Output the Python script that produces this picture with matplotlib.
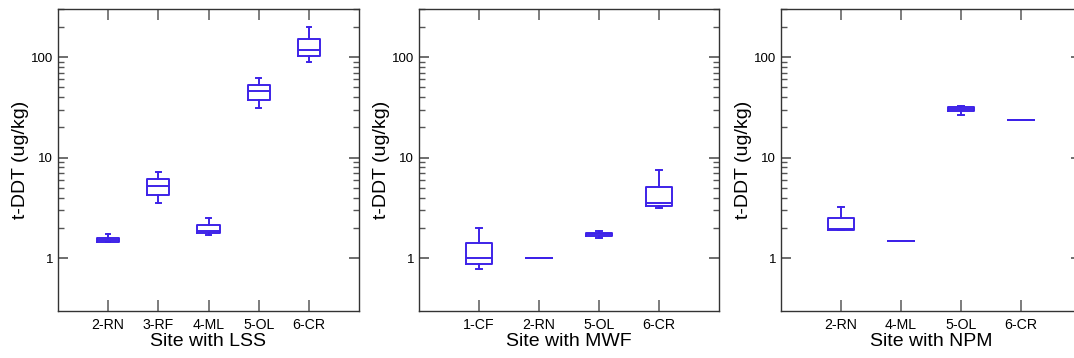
import matplotlib
matplotlib.use('Agg')
import matplotlib.pyplot as plt
from matplotlib.ticker import FixedLocator, FuncFormatter, NullFormatter

plt.rcParams['font.family'] = ['Liberation Sans', 'DejaVu Sans']

# box statistics: whisker low, q1, median, q3, whisker high
lss_sites = ['2-RN', '3-RF', '4-ML', '5-OL', '6-CR']
lss_whislo = [1.44, 3.54, 1.72, 31.0, 89.0]
lss_q1 = [1.47, 4.29, 1.78, 37.7, 103.0]
lss_med = [1.52, 5.19, 1.85, 45.5, 118.0]
lss_q3 = [1.60, 6.09, 2.16, 53.0, 152.0]
lss_whishi = [1.74, 7.15, 2.51, 62.0, 200.0]

mwf_sites = ['1-CF', '2-RN', '5-OL', '6-CR']
mwf_whislo = [0.78, 1.0, 1.58, 3.14]
mwf_q1 = [0.885, 1.0, 1.65, 3.34]
mwf_med = [1.0, 1.0, 1.73, 3.52]
mwf_q3 = [1.42, 1.0, 1.80, 5.15]
mwf_whishi = [2.0, 1.0, 1.88, 7.6]

npm_sites = ['2-RN', '4-ML', '5-OL', '6-CR']
npm_whislo = [1.90, 1.5, 26.7, 23.8]
npm_q1 = [1.93, 1.5, 28.8, 23.8]
npm_med = [1.96, 1.5, 30.5, 23.8]
npm_q3 = [2.5, 1.5, 31.7, 23.8]
npm_whishi = [3.23, 1.5, 32.5, 23.8]

panels = [
    ('Site with LSS', lss_sites, lss_whislo, lss_q1, lss_med, lss_q3, lss_whishi),
    ('Site with MWF', mwf_sites, mwf_whislo, mwf_q1, mwf_med, mwf_q3, mwf_whishi),
    ('Site with NPM', npm_sites, npm_whislo, npm_q1, npm_med, npm_q3, npm_whishi),
]

W, H = 1074, 358
fig = plt.figure(figsize=(W / 100, H / 100), dpi=100)
rects = [(58, 301), (419, 300), (781, 300)]
blue = '#3d22e8'

for (xlabel, sites, wlo, q1, med, q3, whi), (left, width) in zip(panels, rects):
    ax = fig.add_axes([left / W, 47 / H, width / W, 302 / H])
    stats = []
    for i in range(len(sites)):
        stats.append({'whislo': wlo[i], 'q1': q1[i], 'med': med[i],
                      'q3': q3[i], 'whishi': whi[i], 'fliers': []})
    pos = list(range(1, len(sites) + 1))
    ax.bxp(stats, positions=pos, widths=0.44, capwidths=0.09,
           showfliers=False, manage_ticks=False,
           boxprops=dict(color=blue, linewidth=1.4),
           whiskerprops=dict(color=blue, linewidth=1.4),
           capprops=dict(color=blue, linewidth=1.4),
           medianprops=dict(color=blue, linewidth=1.4))
    ax.set_yscale('log')
    ax.set_ylim(0.3, 300)
    ax.set_xlim(0, len(sites) + 1)
    ax.set_xticks(pos)
    ax.set_xticklabels(sites, fontsize=10.2)
    ax.yaxis.set_major_locator(FixedLocator([1, 10, 100]))
    ax.yaxis.set_major_formatter(FuncFormatter(lambda v, p: '%g' % v))
    ax.yaxis.set_minor_locator(FixedLocator([m * 10 ** e for e in (0, 1, 2) for m in range(2, 10)]))
    ax.yaxis.set_minor_formatter(NullFormatter())
    ax.tick_params(axis='x', which='both', direction='in', top=True, length=8,
                   width=1.2, color='#666666', pad=5)
    ax.tick_params(axis='y', which='major', direction='in', right=True, length=7,
                   width=1.2, color='#555555', labelsize=9.5, pad=3.6)
    ax.tick_params(axis='y', which='minor', direction='in', right=True, length=4,
                   width=1.0, color='#555555')
    for s in ax.spines.values():
        s.set_color('#333333')
        s.set_linewidth(1.0)
    ax.set_xlabel(xlabel, fontsize=14, labelpad=1)
    ax.set_ylabel('t-DDT (ug/kg)', fontsize=14, labelpad=1.5)

fig.savefig('out.png', dpi=100)
